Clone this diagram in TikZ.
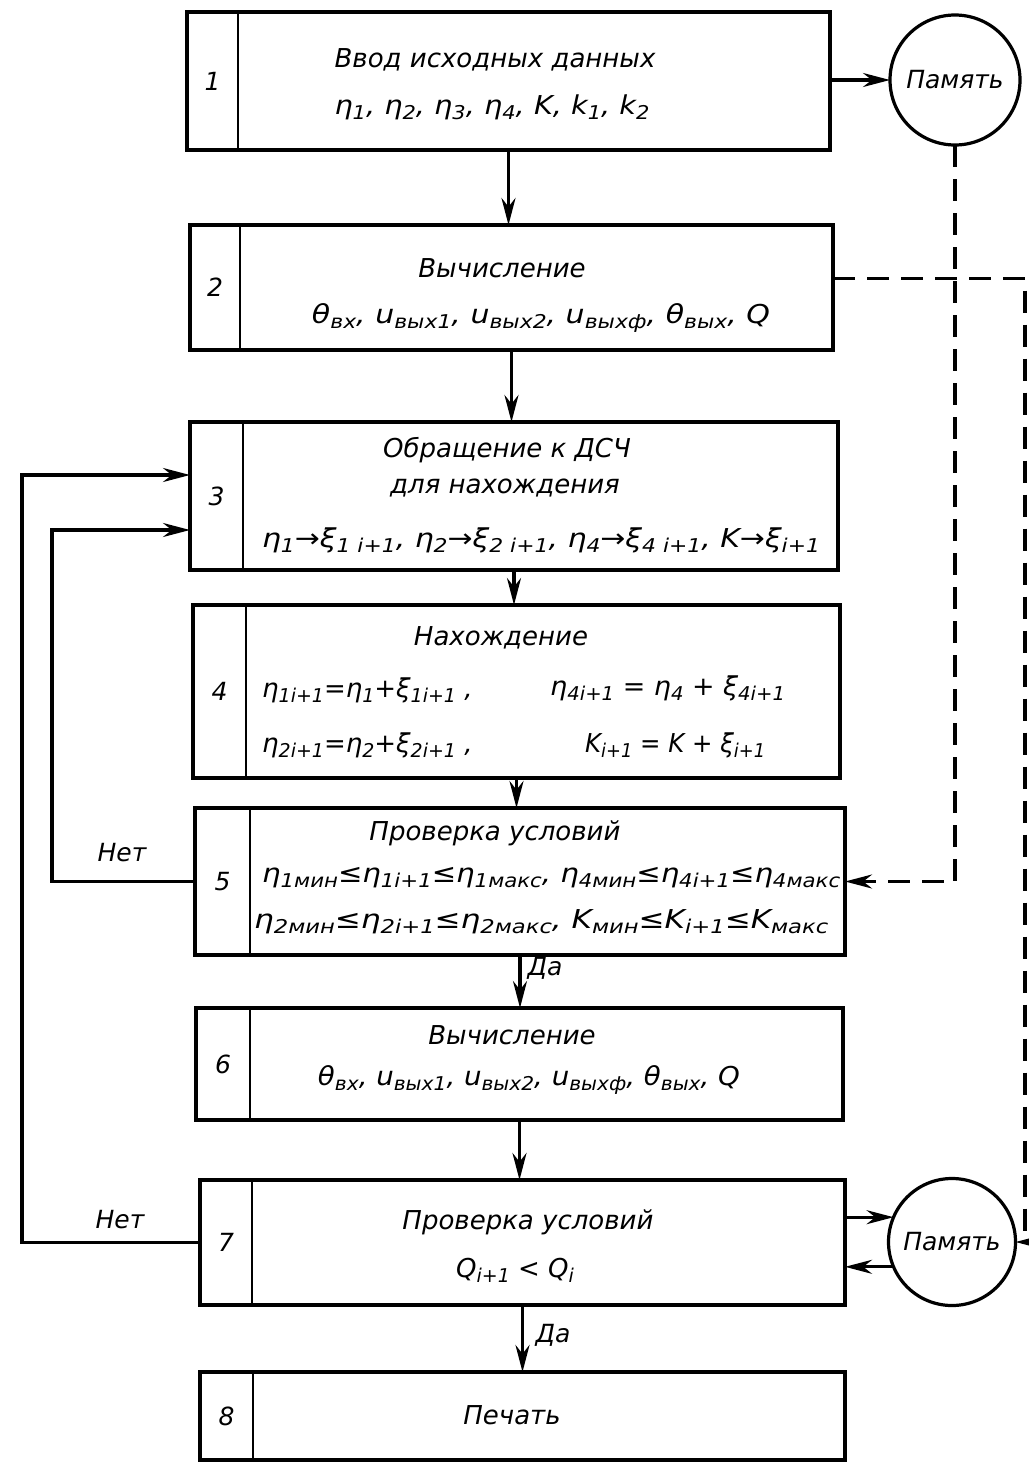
\documentclass[tikz,border=0pt]{standalone}
\usepackage{fontspec}
\usepackage{graphicx}
\setmainfont{DejaVu Sans}
\usetikzlibrary{arrows.meta}
\newcommand\ssub[1]{\raisebox{-0.35ex}{\fontsize{19}{19}\selectfont #1}}
\newcommand\fitw[2]{\resizebox{#1pt}{\height}{#2}}
\tikzset{
  box/.style={draw, line width=3.4pt, rectangle, inner sep=0pt, outer sep=0pt, anchor=north west},
  divl/.style={line width=2.6pt},
  conn/.style={line width=3.2pt, -{Stealth[length=27pt,width=14pt]}},
  dsharrow/.style={line width=3.2pt, dash pattern=on 22pt off 12pt, -{Stealth[length=27pt,width=14pt]}},
  txt/.style={font=\fontsize{26}{30}\selectfont\itshape, inner sep=0pt},
  num/.style={font=\fontsize{25}{30}\selectfont\itshape, inner sep=0pt},
  lbl/.style={font=\fontsize{25}{30}\selectfont\itshape, inner sep=0pt},
  mem/.style={draw, circle, line width=3.2pt, inner sep=0pt, outer sep=0pt, font=\fontsize{25}{28}\selectfont\itshape},
}
\newcommand\blk[7]{%
  \node[box, minimum width={(#4-#2)*1pt}, minimum height={(#5-#3)*1pt}] (#1) at (#2,#3) {};
  \draw[divl] (#6,#3) -- (#6,#5);
  \node[num] (#1n) at ({(#2+#6)/2},{(#3+#5)/2}) {#7};
}
\begin{document}
\begin{tikzpicture}[x=1pt,y=-1pt]
\useasboundingbox (0,0) rectangle (1028,1464);
\fill[white] (0,0) rectangle (1028,1464);

% blocks
\blk{b1}{187}{12}{830}{150}{238}{1}
\blk{b2}{190}{225}{833}{350}{240}{2}
\blk{b3}{190}{422}{838}{570}{243}{3}
\blk{b4}{193}{605}{840}{778}{246}{4}
\blk{b5}{195}{808}{845}{955}{250}{5}
\blk{b6}{196}{1008}{843}{1120}{250}{6}
\blk{b7}{200}{1180}{845}{1305}{252}{7}
\blk{b8}{200}{1372}{845}{1460}{253}{8}

% memory circles
\node[mem, minimum size=130pt] (m1) at (955,80) {Память};
\node[mem, minimum size=127pt] (m2) at (952,1242) {Память};

% texts
\node[txt] (t1a) at (495,60) {Ввод исходных данных};
\node[txt] (t1b) at (492,107) {\fitw{315}{η\ssub{1}, η\ssub{2}, η\ssub{3}, η\ssub{4}, K, k\ssub{1}, k\ssub{2}}};

\node[txt] (t2a) at (502,268) {Вычисление};
\node[txt] (t2b) at (541,318) {\fitw{458}{θ\ssub{вх}, u\ssub{вых1}, u\ssub{вых2}, u\ssub{выхф}, θ\ssub{вых}, Q}};

\node[txt] (t3a) at (507,450) {Обращение к ДСЧ};
\node[txt] (t3b) at (505,488) {для нахождения};
\node[txt] (t3c) at (541,540) {\fitw{558}{η\ssub{1}→ξ\ssub{1 i+1}, η\ssub{2}→ξ\ssub{2 i+1}, η\ssub{4}→ξ\ssub{4 i+1}, K→ξ\ssub{i+1}}};

\node[txt] (t4a) at (501,638) {Нахождение};
\node[txt, anchor=west] (t4b) at (262,690) {η\ssub{1i+1}=η\ssub{1}+ξ\ssub{1i+1} ,};
\node[txt, anchor=west] (t4c) at (550,688) {\fitw{235}{η\ssub{4i+1} = η\ssub{4} + ξ\ssub{4i+1}}};
\node[txt, anchor=west] (t4d) at (262,745) {η\ssub{2i+1}=η\ssub{2}+ξ\ssub{2i+1} ,};
\node[txt, anchor=west] (t4e) at (585,745) {\fitw{180}{K\ssub{i+1} = K + ξ\ssub{i+1}}};

\node[txt] (t5a) at (495,833) {Проверка условий};
\node[txt, anchor=west] (t5b) at (262,878) {\fitw{578}{η\ssub{1мин}≤η\ssub{1i+1}≤η\ssub{1макс}, η\ssub{4мин}≤η\ssub{4i+1}≤η\ssub{4макс}}};
\node[txt, anchor=west] (t5c) at (254,922) {\fitw{574}{η\ssub{2мин}≤η\ssub{2i+1}≤η\ssub{2макс}, K\ssub{мин}≤K\ssub{i+1}≤K\ssub{макс}}};

\node[txt] (t6a) at (512,1035) {Вычисление};
\node[txt] (t6b) at (529,1080) {\fitw{422}{θ\ssub{вх}, u\ssub{вых1}, u\ssub{вых2}, u\ssub{выхф}, θ\ssub{вых}, Q}};

\node[txt] (t7a) at (528,1222) {Проверка условий};
\node[txt] (t7b) at (515,1270) {Q\ssub{i+1} < Q\ssub{i}};

\node[txt] (t8a) at (512,1415) {Печать};

% labels
\node[lbl] (no5) at (122,853) {Нет};
\node[lbl] (no7) at (120,1220) {Нет};
\node[lbl] (yes5) at (545,968) {Да};
\node[lbl] (yes7) at (553,1335) {Да};

% main flow
\draw[conn] (b1.south) -- (b1.south |- b2.north);
\draw[conn] (b2.south) -- (b2.south |- b3.north);
\draw[conn] (b3.south) -- (b3.south |- b4.north);
\draw[conn] (b4.south) -- (b4.south |- b5.north);
\draw[conn] (b5.south) -- (b5.south |- b6.north);
\draw[conn] (b6.south) -- (b6.south |- b7.north);
\draw[conn] (b7.south) -- (b7.south |- b8.north);

% to memory
\draw[conn] (m1.west -| b1.east) -- (m1.west);
\draw[conn] (m2.157 -| b7.east) -- (m2.157);
\draw[conn] (m2.203) -- (m2.203 -| b7.east);

% loops
\coordinate (in3a) at ([yshift=21pt]b3.west);
\coordinate (in3b) at ([yshift=-34pt]b3.west);
\coordinate (l5) at (52,0);
\coordinate (l7) at (22,0);
\draw[conn] (b5.west) -| (l5 |- in3b) -- (in3b);
\draw[conn] (b7.west) -| (l7 |- in3a) -- (in3a);

% dashed
\coordinate (rx) at (1025,0);
\draw[dsharrow] (m1.south) |- (b5.east);
\draw[dsharrow] ([yshift=9pt]b2.east) -| (rx |- m2.east) -- (m2.east);
\end{tikzpicture}
\end{document}
